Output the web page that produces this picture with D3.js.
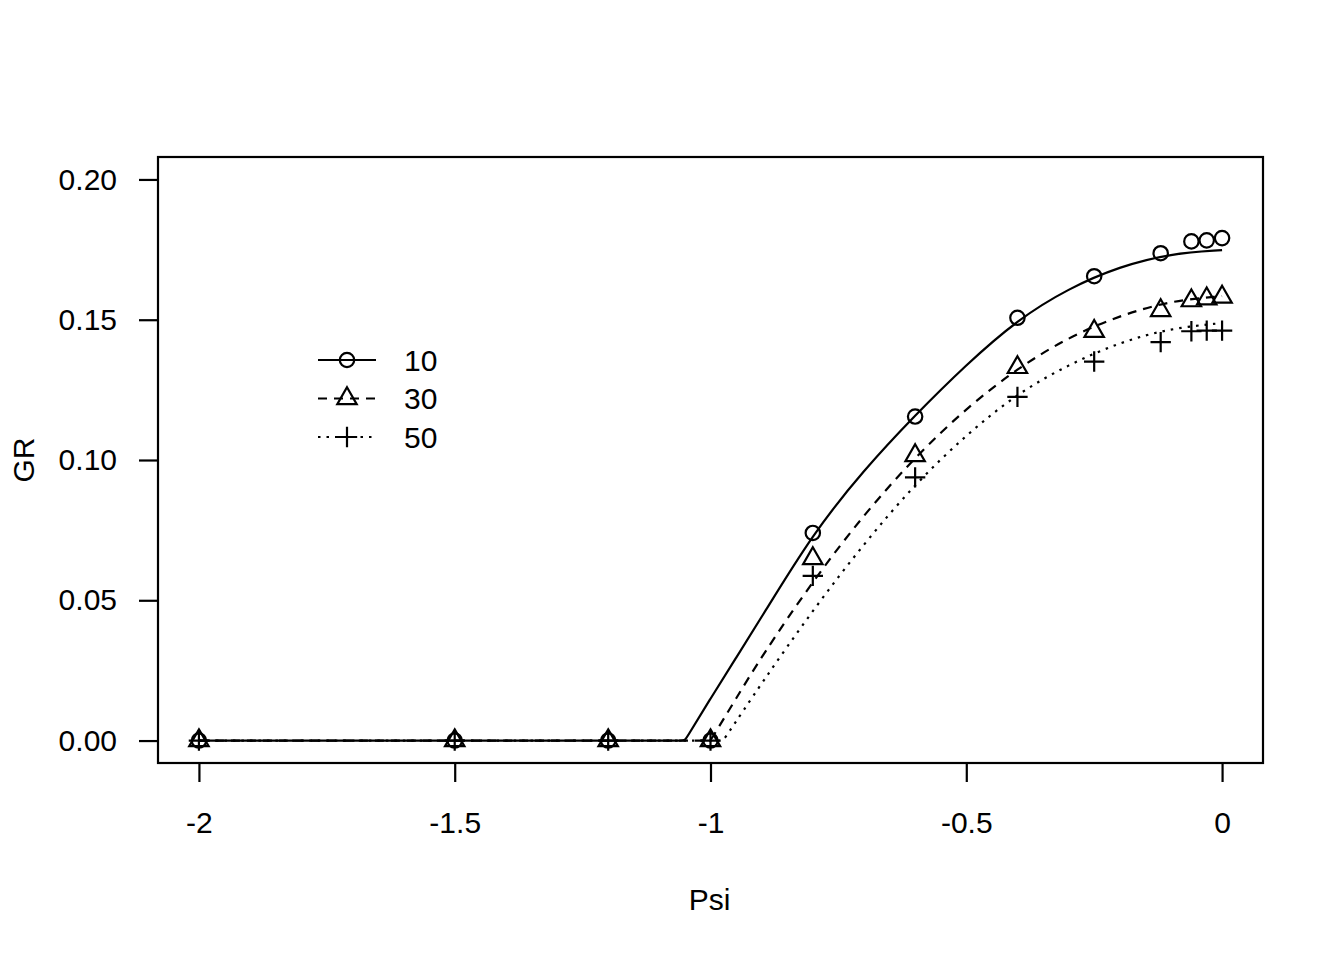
<!DOCTYPE html>
<html>
<head>
<meta charset="utf-8">
<script src="https://cdnjs.cloudflare.com/ajax/libs/d3/7.8.5/d3.min.js"></script>
<style>
  body { margin: 0; background: #fff; }
  svg text { font-family: "Liberation Sans", Arial, Helvetica, sans-serif; fill: #000; }
</style>
</head>
<body>
<div class="canvas"></div>
<script>
// observed points
const psi = [-2, -1.5, -1.2, -1, -0.8, -0.6, -0.4, -0.25, -0.12, -0.06, -0.03, 0]
const gr10 = [0, 0, 0, 0, 0.0740, 0.1155, 0.1507, 0.1655, 0.1737, 0.1779, 0.1783, 0.1791]
const gr30 = [0, 0, 0, 0, 0.0649, 0.1016, 0.1330, 0.1459, 0.1533, 0.1568, 0.1575, 0.1581]
const gr50 = [0, 0, 0, 0, 0.0587, 0.0938, 0.1225, 0.1351, 0.1420, 0.1459, 0.1461, 0.1461]

// fitted curves (start point repeated to keep the corner tight)
const fitPsi10 = [-2, -1.1, -1.05, -1.05, -1.0, -0.95, -0.9, -0.8, -0.7, -0.6, -0.5, -0.4, -0.3, -0.2, -0.1, 0]
const fit10 = [0, 0, 0, 0, 0.0150, 0.0295, 0.0440, 0.0738, 0.0965, 0.1160, 0.1340, 0.1500, 0.1612, 0.1690, 0.1736, 0.1748]
const fitPsi30 = [-2, -1.05, -1.0, -1.0, -0.95, -0.9, -0.8, -0.7, -0.6, -0.5, -0.4, -0.3, -0.2, -0.1, 0]
const fit30 = [0, 0, 0, 0, 0.0150, 0.0300, 0.0569, 0.0806, 0.1011, 0.1185, 0.1327, 0.1438, 0.1515, 0.1568, 0.1584]
const fitPsi50 = [-2, -1.05, -0.975, -0.975, -0.9, -0.8, -0.7, -0.6, -0.5, -0.4, -0.3, -0.2, -0.1, 0]
const fit50 = [0, 0, 0, 0, 0.0205, 0.0465, 0.0702, 0.0915, 0.1090, 0.1238, 0.1340, 0.1420, 0.1470, 0.1488]

const xTicks = [-2, -1.5, -1, -0.5, 0]
const yTicks = [0, 0.05, 0.10, 0.15, 0.20]
const legendLabels = ['10', '30', '50']

const width = 1344, height = 960
const box = {left: 158, right: 1263, top: 157, bottom: 763}
const fontSize = 30
const lw = 2.2

const svg = d3.select('.canvas')
    .append('svg')
    .attr('width', width)
    .attr('height', height)

const x = d3.scaleLinear().domain([-2.08, 0.08]).range([box.left, box.right])
const y = d3.scaleLinear().domain([-0.008, 0.208]).range([box.bottom, box.top])

// axes
const xAxis = d3.axisBottom(x).tickValues(xTicks).tickFormat(d => String(d)).tickSize(19).tickPadding(30)
const yAxis = d3.axisLeft(y).tickValues(yTicks).tickFormat(d3.format('.2f')).tickSize(19).tickPadding(22)

const xAxisGroup = svg.append('g')
    .attr('transform', `translate(0, ${box.bottom})`)
    .call(xAxis)
const yAxisGroup = svg.append('g')
    .attr('transform', `translate(${box.left}, 0)`)
    .call(yAxis)

svg.selectAll('.domain').remove()
svg.selectAll('.tick line').attr('stroke', '#000').attr('stroke-width', lw)
svg.selectAll('.tick text')
    .attr('font-size', fontSize)
    .attr('font-family', '"Liberation Sans", Arial, Helvetica, sans-serif')
    .attr('fill', '#000')

// box
svg.append('rect')
    .attr('x', box.left)
    .attr('y', box.top)
    .attr('width', box.right - box.left)
    .attr('height', box.bottom - box.top)
    .attr('fill', 'none')
    .attr('stroke', '#000')
    .attr('stroke-width', lw)

// axis titles
svg.append('text')
    .attr('x', (box.left + box.right) / 2 - 1)
    .attr('y', 910)
    .attr('text-anchor', 'middle')
    .style('font-size', fontSize + 'px')
    .text('Psi')

svg.append('text')
    .attr('transform', `translate(34, ${(box.top + box.bottom) / 2}) rotate(-90)`)
    .attr('text-anchor', 'middle')
    .style('font-size', fontSize + 'px')
    .text('GR')

const series = [
    {px: fitPsi10, py: fit10, pts: gr10, dash: null, shape: 'circle'},
    {px: fitPsi30, py: fit30, pts: gr30, dash: '9,7', shape: 'triangle'},
    {px: fitPsi50, py: fit50, pts: gr50, dash: '2.5,6', shape: 'plus'}
]

const line = d3.line()
    .x(d => x(d[0]))
    .y(d => y(d[1]))
    .curve(d3.curveBasis)

const s = 7.2
const markerPath = (shape, cx, cy) => {
    if (shape === 'circle') {
        return `M${cx + s},${cy}A${s},${s} 0 1,1 ${cx - s},${cy}A${s},${s} 0 1,1 ${cx + s},${cy}Z`
    } else if (shape === 'triangle') {
        const r = 1.555 * s, xc = 1.347 * s, yc = 0.778 * s
        return `M${cx},${cy - r}L${cx + xc},${cy + yc}L${cx - xc},${cy + yc}Z`
    }
    const a = 1.414 * s
    return `M${cx - a},${cy}L${cx + a},${cy}M${cx},${cy - a}L${cx},${cy + a}`
}

const plot = svg.append('g')

series.forEach(sr => {
    plot.append('path')
        .datum(sr.px.map((p, i) => [p, sr.py[i]]))
        .attr('d', line)
        .attr('fill', 'none')
        .attr('stroke', '#000')
        .attr('stroke-width', lw)
        .attr('stroke-dasharray', sr.dash)

    plot.selectAll(null)
        .data(psi.map((p, i) => [p, sr.pts[i]]))
        .enter()
        .append('path')
        .attr('d', d => markerPath(sr.shape, x(d[0]), y(d[1])))
        .attr('fill', 'none')
        .attr('stroke', '#000')
        .attr('stroke-width', lw)
})

// legend
const legend = svg.append('g')
series.forEach((sr, i) => {
    const ly = 360 + i * 38.5
    const g = legend.append('g')
    g.append('line')
        .attr('x1', 318).attr('x2', 376)
        .attr('y1', ly).attr('y2', ly)
        .attr('stroke', '#000')
        .attr('stroke-width', lw)
        .attr('stroke-dasharray', sr.dash)
    g.append('path')
        .attr('d', markerPath(sr.shape, 347, ly))
        .attr('fill', 'none')
        .attr('stroke', '#000')
        .attr('stroke-width', lw)
    g.append('text')
        .attr('x', 404)
        .attr('y', ly)
        .attr('dy', '0.35em')
        .style('font-size', fontSize + 'px')
        .text(legendLabels[i])
})
</script>
</body>
</html>
